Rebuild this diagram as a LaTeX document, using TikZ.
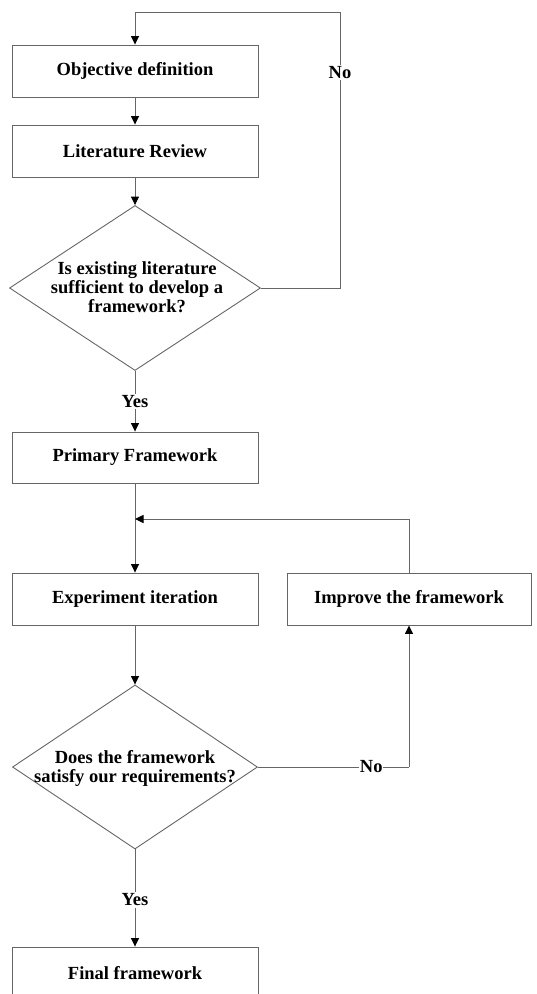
\documentclass[tikz,border=0pt]{standalone}
\usepackage{fontspec}
\setmainfont{Liberation Serif}
\usetikzlibrary{arrows.meta,shapes.geometric}
\begin{document}
\begin{tikzpicture}[x=1pt,y=-1pt,
  line/.style={draw=black!60,line width=0.9pt},
  arr/.style={line,-{Triangle[length=8.5pt,width=8pt,color=black]}},
  procbox/.style={draw=black!60,line width=0.9pt,rectangle,minimum width=246pt,minimum height=52pt,inner sep=0pt,font=\bfseries\fontsize{18.5}{19}\selectfont},
  decbox/.style={draw=black!60,line width=0.9pt,diamond,inner sep=0pt},
  dtext/.style={align=center,font=\bfseries\fontsize{18.5}{19}\selectfont,inner sep=0pt},
  lbl/.style={fill=white,inner sep=1.5pt,font=\bfseries\fontsize{18.5}{18.5}\selectfont}
]
\useasboundingbox (0,0) rectangle (536,994);
\node[procbox] (b1) at (135,71) {Objective definition};
\node[procbox] (b2) at (135,151) {Literature Review};
\node[decbox,minimum width=251pt,minimum height=165pt] (d1) at (135,288) {};
\node[dtext] (t1) at (137,287) {Is existing literature\\sufficient to develop a\\framework?};
\node[procbox,minimum height=51pt] (b3) at (135,457.5) {Primary Framework};
\node[procbox] (b4) at (135,599) {Experiment iteration};
\node[procbox,minimum width=244pt] (b5) at (409,599) {Improve the framework};
\node[decbox,minimum width=245pt,minimum height=164pt] (d2) at (135,767) {};
\node[dtext] (t2) at (135,768) {Does the framework\\satisfy our requirements?};
\node[procbox] (b6) at (135,973) {Final framework};

\coordinate (c1) at (340,12);
\coordinate (c0) at (135,12);
\coordinate (j) at (135,519);
\coordinate (c5) at (409,519);
\coordinate (c6) at (409,767);

\draw[arr] (b1.south) -- (b2.north);
\draw[arr] (b2.south) -- (d1.north);
\draw[line] (d1.east) -- (d1.east -| c1) -- node[lbl,pos=0.78] (no1) {No} (c1) -- (c0);
\draw[arr] (c0) -- (b1.north);
\draw[arr] (d1.south) -- node[lbl,pos=0.5] (yes1) {Yes} (b3.north);
\draw[line] (b3.south) -- (j);
\draw[arr] (j) -- (b4.north);
\draw[arr] (b5.north) -- (c5) -- (j);
\draw[arr] (b4.south) -- (d2.north);
\draw[line] (d2.east) -- node[lbl,pos=0.75,inner sep=0.5pt] (no2) {No} (c6);
\draw[arr] (c6) -- (b5.south);
\draw[arr] (d2.south) -- node[lbl,pos=0.52] (yes2) {Yes} (b6.north);
\end{tikzpicture}
\end{document}
